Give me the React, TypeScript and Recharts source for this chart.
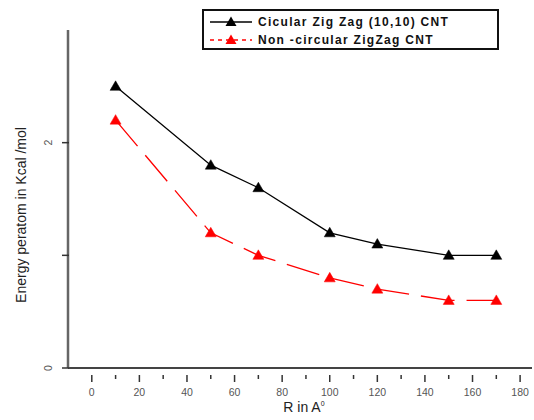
import React from 'react';
import { LineChart, Line, XAxis, YAxis, Label } from 'recharts';

const radii = [10, 50, 70, 100, 120, 150, 170];
const circularEnergy = [2.5, 1.8, 1.6, 1.2, 1.1, 1.0, 1.0];
const nonCircularEnergy = [2.2, 1.2, 1.0, 0.8, 0.7, 0.6, 0.6];
const xTicks = [0, 10, 20, 30, 40, 50, 60, 70, 80, 90, 100, 110, 120, 130, 140, 150, 160, 170, 180];
const xLabeledTicks = [0, 20, 40, 60, 80, 100, 120, 140, 160, 180];
const yTicks = [0, 1, 2];
const yLabeledTicks = [0, 2];
const seriesNames = ['Cicular Zig Zag (10,10) CNT', 'Non -circular ZigZag CNT'];
const seriesColors = ['#000000', '#ff0000'];

const data = radii.map((r, i) => ({ r, circ: circularEnergy[i], non: nonCircularEnergy[i] }));

const tri = (color: string) => (props: any) => {
  const { cx, cy, index } = props;
  if (cx == null || cy == null) return <g key={index} />;
  return (
    <path
      key={index}
      d={`M${cx},${cy - 5.5} L${cx + 5.5},${cy + 4} L${cx - 5.5},${cy + 4} Z`}
      fill={color}
      stroke={color}
      strokeWidth={0.5}
    />
  );
};

const XTick = (props: any) => {
  const { x, y, payload } = props;
  const v = payload.value;
  const major = xLabeledTicks.includes(v);
  return (
    <g>
      <line x1={x} y1={y - 1} x2={x} y2={y + (major ? 6 : 3)} stroke="#333" strokeWidth={1.5} />
      {major && (
        <text x={x} y={y + 20} textAnchor="middle" fontSize={10.5} fill="#555" fontFamily="Liberation Sans, Arial, sans-serif">
          {v}
        </text>
      )}
    </g>
  );
};

const YTick = (props: any) => {
  const { x, y, payload } = props;
  const v = payload.value;
  const labeled = yLabeledTicks.includes(v);
  const ax = x + 8;
  return (
    <g>
      <line x1={ax - 6} y1={y} x2={ax + 1} y2={y} stroke="#333" strokeWidth={1.5} />
      {labeled && (
        <text
          x={ax - 20}
          y={y}
          textAnchor="middle"
          dominantBaseline="central"
          fontSize={10.5}
          fill="#555"
          fontFamily="Liberation Sans, Arial, sans-serif"
          transform={`rotate(-90 ${ax - 20} ${y})`}
        >
          {v}
        </text>
      )}
    </g>
  );
};

const XLabel = (props: any) => {
  const vb = props.viewBox || { x: 68, y: 368, width: 464 };
  const cx = vb.x + vb.width / 2 + 4;
  return (
    <text x={cx} y={vb.y + 44} textAnchor="middle" fontSize={14} fill="#222" fontFamily="Liberation Sans, Arial, sans-serif">
      R in A<tspan dy={-6} fontSize={7}>0</tspan>
    </text>
  );
};

const YLabel = () => (
  <text
    x={21}
    y={215}
    textAnchor="middle"
    dominantBaseline="central"
    fontSize={14}
    fill="#222"
    fontFamily="Liberation Sans, Arial, sans-serif"
    transform="rotate(-90 21 215)"
  >
    Energy peratom in Kcal /mol
  </text>
);

const LegendBox = () => (
  <div
    style={{
      position: 'absolute',
      left: 202,
      top: 9,
      width: 293,
      height: 37,
      border: '2px solid #111',
      background: '#fff',
      boxSizing: 'content-box',
      fontFamily: 'Liberation Sans, Arial, sans-serif',
    }}
  >
    {seriesNames.map((name, i) => (
      <div key={name} style={{ position: 'absolute', left: 0, top: 3 + i * 18, height: 16, display: 'flex', alignItems: 'center' }}>
        <svg width={52} height={16}>
          <line
            x1={6}
            y1={8}
            x2={48}
            y2={8}
            stroke={seriesColors[i]}
            strokeWidth={1.5}
            strokeDasharray={i === 1 ? '4 4' : undefined}
          />
          <path d={`M27,2.5 L32.5,12 L21.5,12 Z`} fill={seriesColors[i]} />
        </svg>
        <span style={{ fontSize: 12, fontWeight: 'bold', letterSpacing: 1.3, color: '#111', marginLeft: 2, whiteSpace: 'nowrap' }}>{name}</span>
      </div>
    ))}
  </div>
);

export default function App() {
  return (
    <div style={{ position: 'absolute', left: 0, top: 0, width: 534, height: 420, background: '#fff' }}>
      <LineChart width={534} height={420} data={data} margin={{ top: 30, right: 2, left: 8, bottom: 0 }}>
        <XAxis
          dataKey="r"
          type="number"
          domain={[-10, 185]}
          ticks={xTicks}
          interval={0}
          tick={<XTick />}
          tickLine={false}
          axisLine={{ stroke: '#444', strokeWidth: 2 }}
          height={52}
          allowDataOverflow
        >
          <Label content={<XLabel />} />
        </XAxis>
        <YAxis
          type="number"
          domain={[0, 3]}
          ticks={yTicks}
          interval={0}
          tick={<YTick />}
          tickLine={false}
          axisLine={{ stroke: '#666', strokeWidth: 2.5 }}
          width={60}
          allowDataOverflow
        >
          <Label content={<YLabel />} />
        </YAxis>
        <Line
          dataKey="circ"
          name={seriesNames[0]}
          stroke={seriesColors[0]}
          strokeWidth={1.3}
          dot={tri(seriesColors[0])}
          activeDot={false}
          isAnimationActive={false}
        />
        <Line
          dataKey="non"
          name={seriesNames[1]}
          stroke={seriesColors[1]}
          strokeWidth={1.3}
          strokeDasharray="34 12"
          dot={tri(seriesColors[1])}
          activeDot={false}
          isAnimationActive={false}
        />
      </LineChart>
      <LegendBox />
    </div>
  );
}
